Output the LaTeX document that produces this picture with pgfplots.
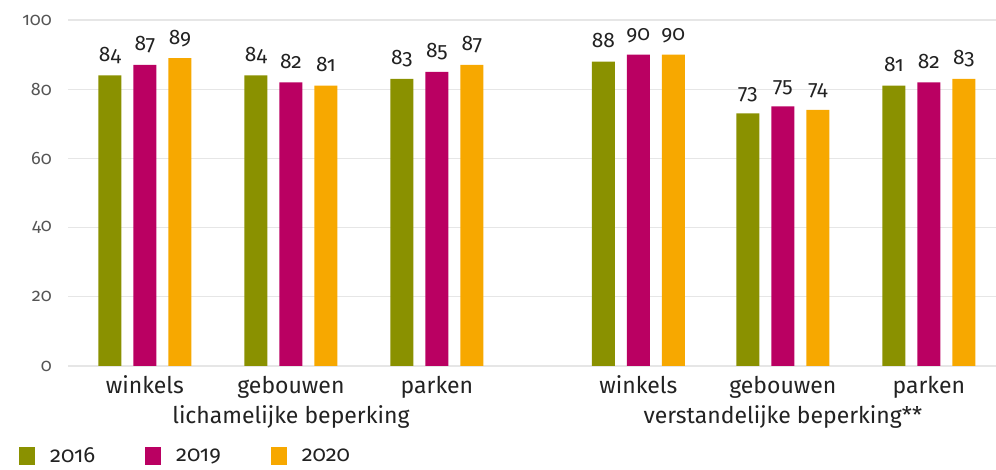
\documentclass[border=0pt]{standalone}
\usepackage{fontspec}
\setmainfont{Fira Sans}[Numbers=OldStyle]
\usepackage{pgfplots}
\usepackage{pgfplotstable}
\pgfplotsset{compat=1.18}
\definecolor{cGreen}{HTML}{8A9100}
\definecolor{cMag}{HTML}{BA0062}
\definecolor{cOra}{HTML}{F7A800}
\definecolor{cGrid}{HTML}{E6E6E6}
\definecolor{cTick}{HTML}{555555}
\definecolor{cText}{HTML}{222222}
\newcommand\lab{\fontsize{23bp}{27bp}\selectfont}
\newcommand\val{\fontsize{21bp}{25bp}\selectfont}
\newcommand\leg{\fontsize{22bp}{26bp}\selectfont}
\newcommand\tck{\fontsize{18bp}{22bp}\selectfont}

% x positions: second group sits a bit further right
\pgfplotstableread{
x    a  b  c
0    84 87 89
1    84 82 81
2    83 85 87
3.38 88 90 90
4.37 73 75 74
5.37 81 82 83
}\data

\begin{document}
\begin{tikzpicture}
\begin{axis}[
  x=146bp, y=3.46bp,
  xmin=-0.527, xmax=5.83, ymin=0, ymax=100,
  axis line style={draw=none},
  major tick length=0pt,
  ytick={0,20,...,100},
  ymajorgrids, grid style={draw=cGrid, line width=1.2bp},
  xtick={0,1,2,3.38,4.37,5.37},
  xticklabels={winkels,gebouwen,parken,winkels,gebouwen,parken},
  xticklabel style={anchor=base, yshift=-28bp, font=\lab, text=cText},
  yticklabel style={font=\tck, text=cTick, inner sep=0pt, xshift=-16bp},
  /pgf/number format/assume math mode=true,
  clip=false,
  ybar, bar width=23bp,
  nodes near coords,
  every node near coord/.append style={anchor=base, yshift=14bp, font=\val, text=cText},
  legend style={at={(rel axis cs:-0.0528,-0.26)}, anchor=west, draw=none, fill=none,
    legend columns=3, font=\leg, text=cText, inner sep=0pt,
    nodes={inner sep=0pt},
    /tikz/every odd column/.append style={column sep=15bp},
    /tikz/every even column/.append style={column sep=50bp}},
]
\addplot[fill=cGreen, draw=none, bar shift=-35bp,
  legend image code/.code={\fill[cGreen] (0bp,-9bp) rectangle (16bp,9bp);}]
  table[x=x, y=a]{\data};
\addplot[fill=cMag, draw=none, bar shift=0bp,
  legend image code/.code={\fill[cMag] (0bp,-9bp) rectangle (16bp,9bp);}]
  table[x=x, y=b]{\data};
\addplot[fill=cOra, draw=none, bar shift=35bp,
  legend image code/.code={\fill[cOra] (0bp,-9bp) rectangle (16bp,9bp);}]
  table[x=x, y=c]{\data};
\legend{2016,2019,2020}
\node[anchor=base, font=\lab, text=cText, inner sep=0pt] at (axis cs:1,0) [yshift=-58bp] {lichamelijke beperking};
\node[anchor=base, font=\lab, text=cText, inner sep=0pt] at (axis cs:4.37,0) [yshift=-58bp] {verstandelijke beperking**};
\coordinate (sw) at (rel axis cs:0,0);
\coordinate (ne) at (rel axis cs:1,1);
\end{axis}
\pgfresetboundingbox
\path ([xshift=-68bp,yshift=-104bp]sw) rectangle ([yshift=20bp]ne);
\end{tikzpicture}
\end{document}
